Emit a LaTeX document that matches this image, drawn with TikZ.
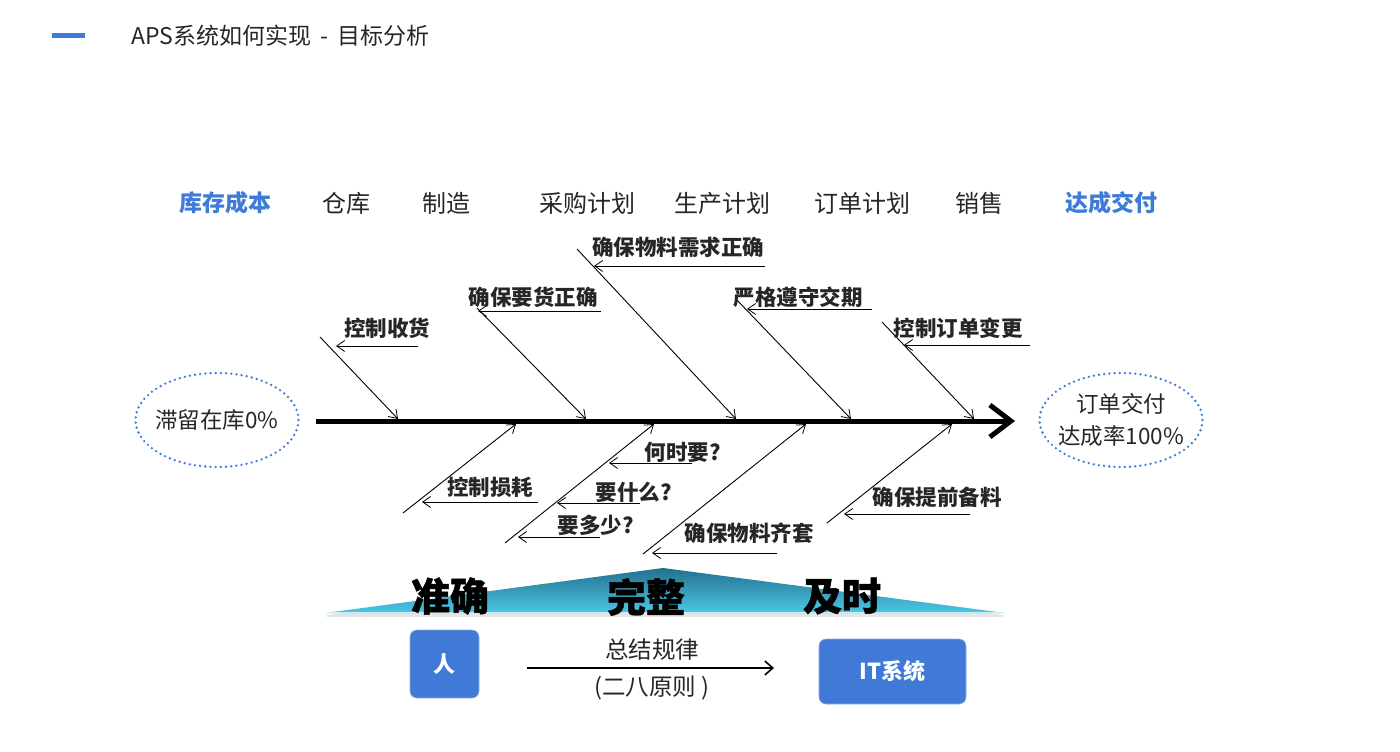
\documentclass[tikz,border=0pt]{standalone}
\usepackage{fontspec}
\setmainfont{Noto Sans CJK SC}
\newfontfamily\heavy[FakeBold=1.2]{Noto Sans CJK SC}
\usetikzlibrary{arrows.meta,shapes.geometric}
\definecolor{apsblue}{HTML}{3E7AD8}
\definecolor{boxblue}{HTML}{4079D6}
\definecolor{txtdark}{HTML}{262626}
\definecolor{tritop}{HTML}{23708E}
\definecolor{tribot}{HTML}{4CC8E6}
\tikzset{
  bone/.style={line width=0.9pt, black, -{Straight Barb[length=8pt,width=11pt,line width=0.8pt]}},
  twig/.style={line width=1pt, black, -{Straight Barb[length=8pt,width=11pt,line width=0.8pt]}},
  bonelabel/.style={font=\fontsize{21.5}{25}\selectfont\bfseries, text=txtdark, inner sep=0pt},
  cat/.style={font=\fontsize{24}{28}\selectfont, text=txtdark, inner sep=0pt},
  catblue/.style={font=\fontsize{23}{27}\selectfont\bfseries, text=apsblue, inner sep=0pt},
  goal/.style={ellipse, draw=apsblue, line width=2.6pt, dash pattern=on 0pt off 5.2pt, line cap=round,
    minimum width=163pt, minimum height=94pt, inner sep=0pt},
  goaltext/.style={inner sep=0pt, align=center, font=\fontsize{22.5}{32}\selectfont, text=txtdark},
  big/.style={font=\heavy\fontsize{39}{42}\selectfont\bfseries, text=black, inner sep=0pt},
  bluebox/.style={draw=boxblue!60, line width=0.6pt, fill=boxblue, rounded corners=7pt, text=white,
    font=\fontsize{22}{26}\selectfont\bfseries, inner sep=0pt}
}
\begin{document}
\begin{tikzpicture}[x=1pt,y=-1pt]
\useasboundingbox (0,0) rectangle (1400,752);
% header
\fill[apsblue] (52,33) rectangle (85,38);
\node[anchor=west, inner sep=0pt, font=\fontsize{23}{27}\selectfont, text=txtdark] (title) at (131,36) {APS系统如何实现 \,-\, 目标分析};
% category labels
\node[catblue] (c1) at (225,203) {库存成本};
\node[cat] (c2) at (346,203) {仓库};
\node[cat] (c3) at (446,203) {制造};
\node[cat] (c4) at (587,203) {采购计划};
\node[cat] (c5) at (722,203) {生产计划};
\node[cat] (c6) at (862,203) {订单计划};
\node[cat] (c7) at (979,203) {销售};
\node[catblue] (c8) at (1111,203) {达成交付};
% goals
\node[goal] (left) at (217,420) {};
\node[goaltext] (lefttext) at (left.center) {滞留在库0\%};
\node[goal] (right) at (1121,420) {};
\node[goaltext] (righttext) at (right.center) {订单交付\\达成率100\%};
% spine
\coordinate (s0) at (316,421);
\coordinate (s1) at (1015,421);
\draw[line width=5pt, -{Straight Barb[length=21pt,width=32pt,line width=5pt]}, line cap=butt] (s0) -- (s1);
% upper bones
\coordinate (u1a) at (320,337); \coordinate (u1b) at (398,419);
\coordinate (u2a) at (477,308); \coordinate (u2b) at (586,419);
\coordinate (u3a) at (577,249); \coordinate (u3b) at (736,419);
\coordinate (u4a) at (736,299); \coordinate (u4b) at (851,419);
\coordinate (u5a) at (882,322); \coordinate (u5b) at (974,419);
\draw[bone] (u1a) -- (u1b);
\draw[bone] (u2a) -- (u2b);
\draw[bone] (u3a) -- (u3b);
\draw[bone] (u4a) -- (u4b);
\draw[bone] (u5a) -- (u5b);
% upper twigs
\coordinate (t1a) at (418,346); \coordinate (t1b) at (336,346);
\coordinate (t2a) at (601,311); \coordinate (t2b) at (478,311);
\coordinate (t3a) at (765,266); \coordinate (t3b) at (594,266);
\coordinate (t4a) at (872,309); \coordinate (t4b) at (747,309);
\coordinate (t5a) at (1030,345); \coordinate (t5b) at (904,345);
\draw[twig] (t1a) -- (t1b);
\draw[twig] (t2a) -- (t2b);
\draw[twig] (t3a) -- (t3b);
\draw[twig] (t4a) -- (t4b);
\draw[twig] (t5a) -- (t5b);
\node[bonelabel] (l1) at (387,328) {控制收货};
\node[bonelabel] (l2) at (533,297) {确保要货正确};
\node[bonelabel] (l3) at (678,247) {确保物料需求正确};
\node[bonelabel] (l4) at (798,297) {严格遵守交期};
\node[bonelabel] (l5) at (958,328) {控制订单变更};
% lower bones
\coordinate (d1a) at (403,513); \coordinate (d1b) at (516,424);
\coordinate (d2a) at (505,543); \coordinate (d2b) at (654,424);
\coordinate (d3a) at (643,554); \coordinate (d3b) at (806,424);
\coordinate (d4a) at (827,523); \coordinate (d4b) at (952,424);
\draw[bone] (d1a) -- (d1b);
\draw[bone] (d2a) -- (d2b);
\draw[bone] (d3a) -- (d3b);
\draw[bone] (d4a) -- (d4b);
% lower twigs
\coordinate (w1a) at (538,502); \coordinate (w1b) at (422,502);
\coordinate (w2a) at (692,463); \coordinate (w2b) at (609,463);
\coordinate (w3a) at (640,503); \coordinate (w3b) at (557,503);
\coordinate (w4a) at (600,537); \coordinate (w4b) at (518,537);
\coordinate (w5a) at (777,553); \coordinate (w5b) at (652,553);
\coordinate (w6a) at (970,514); \coordinate (w6b) at (844,514);
\draw[twig] (w1a) -- (w1b);
\draw[twig] (w2a) -- (w2b);
\draw[twig] (w3a) -- (w3b);
\draw[twig] (w4a) -- (w4b);
\draw[twig] (w5a) -- (w5b);
\draw[twig] (w6a) -- (w6b);
\node[bonelabel] (m1) at (490,487) {控制损耗};
\node[bonelabel] (m2) at (683,452) {何时要?};
\node[bonelabel] (m3) at (634,492) {要什么?};
\node[bonelabel] (m4) at (596,525) {要多少?};
\node[bonelabel] (m5) at (749,533) {确保物料齐套};
\node[bonelabel] (m6) at (937,497) {确保提前备料};
% triangle
\fill[black!10] (327,615) -- (663,571) -- (1003,615) -- (1003,617) -- (327,617) -- cycle;
\shade[top color=tritop, bottom color=tribot] (325,613) -- (663,568) -- (1005,613) -- cycle;
\draw[white!70!tribot, line width=0.8pt] (327,612.5) -- (1003,612.5);
\node[big] (k1) at (450,596) {准确};
\node[big] (k2) at (646,597) {完整};
\node[big] (k3) at (842,596) {及时};
% bottom
\node[bluebox, minimum width=69pt, minimum height=68pt] (ren) at (444.5,664) {人};
\node[bluebox, minimum width=147pt, minimum height=65pt] (it) at (892.5,671.5) {IT系统};
\coordinate (a0) at (527,668);
\coordinate (a1) at (774,668);
\draw[line width=2.2pt, -{Straight Barb[length=8pt,width=14pt,line width=1.6pt]}] (a0) -- (a1);
\node[font=\fontsize{23.5}{27}\selectfont, text=txtdark, inner sep=0pt] (rule) at (652,650) {总结规律};
\node[font=\fontsize{23.5}{27}\selectfont, text=txtdark, inner sep=0pt] (rule2) at (652,688) {(二八原则 )};
\end{tikzpicture}
\end{document}
